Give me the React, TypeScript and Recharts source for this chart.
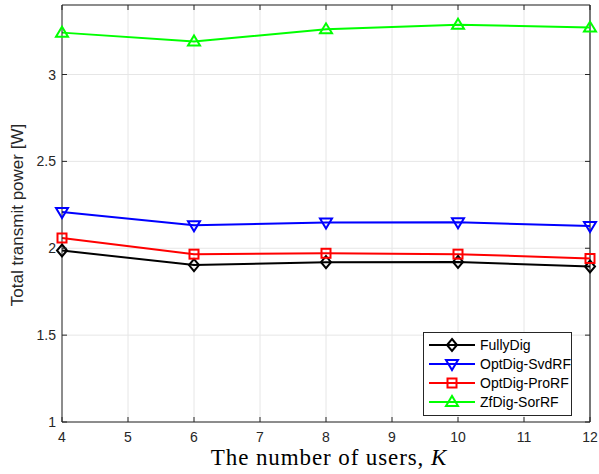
import React from 'react';
import { LineChart, Line, XAxis, YAxis, CartesianGrid, ReferenceLine } from 'recharts';

const users = [4, 6, 8, 10, 12];
const fullyDig = [1.987, 1.903, 1.92, 1.921, 1.895];
const optDigSvdRF = [2.209, 2.132, 2.148, 2.149, 2.128];
const optDigProRF = [2.059, 1.966, 1.971, 1.966, 1.941];
const zfDigSorRF = [3.241, 3.19, 3.26, 3.287, 3.27];

const xTicks = [4, 5, 6, 7, 8, 9, 10, 11, 12];
const yTicks = [1, 1.5, 2, 2.5, 3];

const data = users.map((k, i) => ({
  k,
  fullyDig: fullyDig[i],
  svd: optDigSvdRF[i],
  pro: optDigProRF[i],
  sor: zfDigSorRF[i],
}));

const series = [
  { key: 'fullyDig', name: 'FullyDig', color: '#000000', marker: 'diamond' },
  { key: 'svd', name: 'OptDig-SvdRF', color: '#0000ff', marker: 'down' },
  { key: 'pro', name: 'OptDig-ProRF', color: '#ff0000', marker: 'square' },
  { key: 'sor', name: 'ZfDig-SorRF', color: '#00ff00', marker: 'up' },
];

const AXIS = '#262626';
const FONT = '"Liberation Sans", Arial, sans-serif';

// plot frame (matches chart margins below)
const PL = 62;
const PT = 5;
const PR = 590;
const PB = 422;

const Marker = ({ cx, cy, type, color }: { cx: number; cy: number; type: string; color: string }) => {
  const p = { fill: 'none', stroke: color, strokeWidth: 2 };
  if (type === 'diamond') {
    return <polygon points={`${cx},${cy - 6} ${cx + 5},${cy} ${cx},${cy + 6} ${cx - 5},${cy}`} {...p} />;
  }
  if (type === 'down') {
    return <polygon points={`${cx - 6},${cy - 4} ${cx + 6},${cy - 4} ${cx},${cy + 6}`} {...p} />;
  }
  if (type === 'up') {
    return <polygon points={`${cx - 6},${cy + 4} ${cx + 6},${cy + 4} ${cx},${cy - 6}`} {...p} />;
  }
  return <rect x={cx - 4.5} y={cy - 4.5} width={9} height={9} {...p} />;
};

const BottomTick = (props: any) => {
  const { x, y, payload } = props;
  return (
    <g>
      <line x1={x} y1={y} x2={x} y2={y - 5} stroke={AXIS} />
      <line x1={x} y1={PT} x2={x} y2={PT + 5} stroke={AXIS} />
      <text x={x} y={y + 20} textAnchor="middle" fill={AXIS} fontSize={14} fontFamily={FONT}>
        {payload.value}
      </text>
    </g>
  );
};

const LeftTick = (props: any) => {
  const { x, y, payload } = props;
  return (
    <g>
      <line x1={x} y1={y} x2={x + 5} y2={y} stroke={AXIS} />
      <line x1={PR} y1={y} x2={PR - 5} y2={y} stroke={AXIS} />
      <text x={x - 6} y={y + 5} textAnchor="end" fill={AXIS} fontSize={14} fontFamily={FONT}>
        {payload.value}
      </text>
    </g>
  );
};

const LegendBox = () => (
  <svg width={150} height={85} style={{ position: 'absolute', left: 423, top: 332 }}>
    <rect x={0.5} y={0.5} width={148} height={83} fill="#fff" stroke={AXIS} />
    {series.map((s, i) => {
      const cy = 13 + i * 19;
      return (
        <g key={s.key}>
          <line x1={6} y1={cy} x2={52} y2={cy} stroke={s.color} strokeWidth={2} />
          <Marker cx={29} cy={cy} type={s.marker} color={s.color} />
          <text x={57} y={cy + 5} fontSize={14} fontFamily={FONT} fill="#000">
            {s.name}
          </text>
        </g>
      );
    })}
  </svg>
);

export default function App() {
  return (
    <div style={{ position: 'absolute', left: 0, top: 0, width: 599, height: 474, background: '#fff' }}>
      <LineChart width={599} height={474} data={data} margin={{ top: PT, right: 599 - PR, bottom: 0, left: 0 }}>
        <CartesianGrid stroke="#e6e6e6" strokeWidth={1} />
        <XAxis
          dataKey="k"
          type="number"
          domain={[4, 12]}
          ticks={xTicks}
          height={474 - PB}
          stroke={AXIS}
          tickSize={0}
          tickMargin={0}
          tick={<BottomTick />}
          interval={0}
        />
        <YAxis
          type="number"
          domain={[1, 3.4]}
          ticks={yTicks}
          width={PL}
          stroke={AXIS}
          tickSize={0}
          tickMargin={0}
          tick={<LeftTick />}
          interval={0}
        />
        <ReferenceLine y={3.4} stroke={AXIS} strokeWidth={1.2} ifOverflow="visible" />
        <ReferenceLine x={12} stroke={AXIS} strokeWidth={1.2} ifOverflow="visible" />
        {series.map((s) => (
          <Line
            key={s.key}
            dataKey={s.key}
            name={s.name}
            stroke={s.color}
            strokeWidth={2}
            isAnimationActive={false}
            dot={(p: any) => <Marker key={`${s.key}-${p.index}`} cx={p.cx} cy={p.cy} type={s.marker} color={s.color} />}
          />
        ))}
      </LineChart>
      <LegendBox />
      <div
        style={{
          position: 'absolute',
          left: 150,
          top: 445,
          width: 358,
          textAlign: 'center',
          fontFamily: '"Liberation Serif", "Times New Roman", serif',
          fontSize: 23,
          letterSpacing: 0.9,
          color: '#000',
          whiteSpace: 'nowrap',
        }}
      >
        The number of users, <i>K</i>
      </div>
      <svg width={30} height={474} style={{ position: 'absolute', left: 0, top: 0 }}>
        <text
          x={23}
          y={215}
          transform="rotate(-90 23 215)"
          textAnchor="middle"
          fontSize={17}
          fontFamily={FONT}
          fill={AXIS}
        >
          Total transmit power [W]
        </text>
      </svg>
    </div>
  );
}
